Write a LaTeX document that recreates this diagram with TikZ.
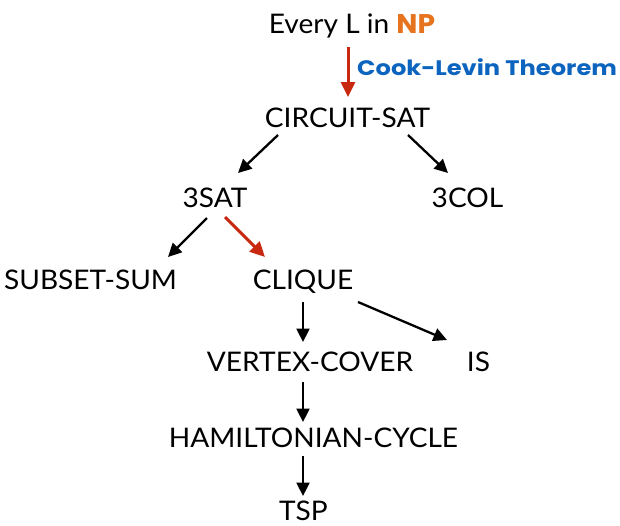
\documentclass[tikz,border=0pt]{standalone}
\usepackage{fontspec}
\setmainfont{Lato}
\newfontfamily\heavyfont{Poppins}
\usetikzlibrary{arrows.meta,calc}
\definecolor{nporange}{RGB}{230,115,30}
\definecolor{thmblue}{RGB}{12,100,190}
\definecolor{redarrow}{RGB}{200,40,15}
\begin{document}
\begin{tikzpicture}[x=1pt,y=-1pt,
  prob/.style={inner sep=0pt,anchor=base,xscale=1.04,transform shape,
    font=\fontsize{27}{32}\selectfont},
  link/.style={line width=2.3pt,-{Triangle[length=13.5pt,width=13pt]}},
  red/.style={draw=redarrow,line width=3pt,-{Triangle[length=15pt,width=14pt]}},
]
\useasboundingbox (0,0) rectangle (620,525);

% problems
\node[prob] (np)  at (352,33)   {Every L in \textcolor{nporange}{\heavyfont\bfseries NP}};
\node[prob] (cs)  at (347.5,127){CIRCUIT-SAT};
\node[prob] (sat) at (215,207)  {3SAT};
\node[prob] (col) at (467.5,207){3COL};
\node[prob] (sub) at (90.5,289) {SUBSET-SUM};
\node[prob] (clq) at (303,289)  {CLIQUE};
\node[prob] (vc)  at (310,371)  {VERTEX-COVER};
\node[prob] (is)  at (478.5,371){IS};
\node[prob] (hc)  at (313.5,447){HAMILTONIAN-CYCLE};
\node[prob] (tsp) at (303.5,520){TSP};

% theorem label beside the first reduction
\node[inner sep=0pt,anchor=base west,xscale=1.15,transform shape,text=thmblue,
  font=\fontsize{21}{25}\heavyfont\bfseries]
  (cl) at (357,75) {Cook-Levin Theorem};

% reductions
\draw[link,red] ($(np.base)+(-4,14)$) -- ($(cs.base)+(0.5,-30)$);
\draw[link] ($(cs.base)+(-69.5,8)$) -- ($(sat.base)+(23,-34)$);
\draw[link] ($(cs.base)+(60.5,8)$) -- ($(col.base)+(-19.5,-34)$);
\draw[link] ($(sat.base)+(-8,11)$) -- ($(sub.base)+(77.5,-32)$);
\draw[link,red] ($(sat.base)+(10,10)$) -- ($(clq.base)+(-38,-32)$);
\draw[link] ($(clq.base)+(0,13)$) -- ($(vc.base)+(-7,-29)$);
\draw[link] ($(clq.base)+(55,13)$) -- ($(is.base)+(-31.5,-31)$);
\draw[link] ($(vc.base)+(-7,11)$) -- ($(hc.base)+(-10.5,-25)$);
\draw[link] ($(hc.base)+(-10.5,9)$) -- ($(tsp.base)+(-0.5,-24)$);
\end{tikzpicture}
\end{document}
